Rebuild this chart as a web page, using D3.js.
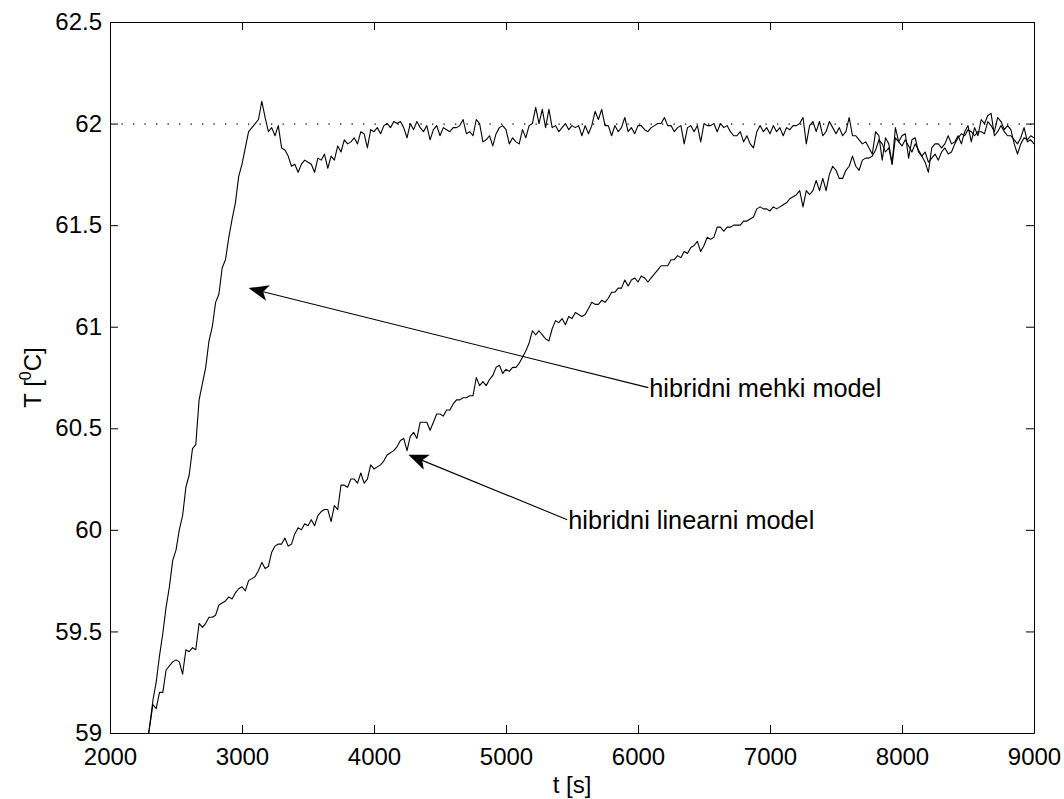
<!DOCTYPE html>
<html>
<head>
<meta charset="utf-8">
<script src="https://cdn.jsdelivr.net/npm/d3@7"></script>
<style>
  body { margin: 0; background: #fff; }
  svg { display: block; font-family: "Liberation Sans", Arial, Helvetica, sans-serif; }
  .axis path, .axis line { stroke: #000; stroke-width: 1; }
  .axis text { font-size: 24px; fill: #000; font-family: "Liberation Sans", Arial, sans-serif; }
  .trace { fill: none; stroke: #000; stroke-width: 1.1; stroke-linejoin: round; }
</style>
</head>
<body>
<div id="plot"></div>
<script>
// sampling of both measured traces
const t0 = 2275;   // first sample [s]
const dt = 25;     // sample period [s]

// hibridni mehki model, T [degC], one row = 250 s
const mehki = [
  58.92, 59.03, 59.16, 59.25, 59.38, 59.49, 59.62, 59.72, 59.85, 59.90,
  60.00, 60.07, 60.21, 60.27, 60.40, 60.42, 60.64, 60.72, 60.80, 60.93,
  61.00, 61.12, 61.16, 61.29, 61.33, 61.44, 61.53, 61.61, 61.74, 61.80,
  61.88, 61.96, 61.98, 62.00, 62.02, 62.11, 62.03, 61.96, 61.98, 61.94,
  61.99, 61.88, 61.87, 61.84, 61.79, 61.80, 61.76, 61.80, 61.82, 61.81,
  61.80, 61.76, 61.83, 61.82, 61.85, 61.78, 61.84, 61.82, 61.89, 61.86,
  61.92, 61.90, 61.91, 61.93, 61.90, 61.96, 61.95, 61.88, 61.97, 61.96,
  61.98, 61.95, 61.99, 62.00, 61.98, 62.01, 62.00, 62.01, 61.98, 61.93,
  62.00, 61.97, 62.01, 61.98, 61.96, 61.99, 61.92, 61.97, 61.99, 61.94,
  61.98, 61.97, 61.96, 61.98, 61.98, 61.99, 62.02, 61.95, 61.96, 61.94,
  62.02, 62.00, 61.91, 61.92, 61.94, 61.89, 61.95, 61.98, 61.99, 61.97,
  61.90, 61.93, 61.91, 61.90, 61.97, 61.93, 61.99, 62.00, 62.08, 62.00,
  62.07, 61.98, 62.07, 61.98, 61.99, 61.96, 61.98, 62.00, 61.97, 61.99,
  61.98, 61.99, 61.94, 61.99, 61.95, 61.99, 62.06, 62.02, 62.07, 61.99,
  61.99, 61.94, 61.99, 61.96, 61.98, 62.03, 61.96, 61.98, 61.95, 61.99,
  61.99, 61.97, 61.96, 61.98, 61.99, 62.00, 62.00, 62.03, 61.99, 61.99,
  61.96, 61.98, 61.99, 61.90, 61.98, 61.99, 61.96, 61.99, 61.91, 62.00,
  61.99, 61.99, 62.00, 61.96, 62.00, 61.98, 61.99, 61.96, 61.94, 61.94,
  61.96, 61.91, 61.94, 61.90, 61.88, 61.96, 61.99, 61.96, 61.98, 61.95,
  61.99, 61.96, 61.98, 61.94, 61.98, 61.97, 61.99, 61.99, 62.00, 62.03,
  61.90, 61.99, 62.01, 61.96, 62.01, 61.94, 61.96, 62.01, 61.98, 61.95,
  61.98, 61.94, 61.96, 62.03, 61.94, 61.94, 61.92, 61.90, 61.91, 61.88,
  61.85, 61.96, 61.94, 61.82, 61.93, 61.90, 61.80, 61.98, 61.91, 61.94,
  61.95, 61.83, 61.92, 61.93, 61.86, 61.84, 61.81, 61.76, 61.88, 61.90,
  61.90, 61.88, 61.90, 61.94, 61.90, 61.91, 61.94, 61.90, 61.96, 61.99,
  61.91, 61.98, 61.94, 62.02, 62.00, 62.04, 62.05, 61.94, 61.96, 61.99,
  61.96, 61.94, 61.94, 61.92, 61.90, 61.93, 61.98, 61.91, 61.92, 61.90
];

// hibridni linearni model, T [degC], one row = 250 s
const linearni = [
  58.92, 59.03, 59.14, 59.12, 59.20, 59.20, 59.31, 59.33, 59.35, 59.36,
  59.35, 59.29, 59.41, 59.40, 59.42, 59.41, 59.54, 59.52, 59.54, 59.57,
  59.57, 59.58, 59.63, 59.64, 59.65, 59.67, 59.66, 59.69, 59.71, 59.72,
  59.70, 59.75, 59.76, 59.77, 59.80, 59.84, 59.81, 59.82, 59.89, 59.92,
  59.93, 59.93, 59.96, 59.92, 59.93, 59.98, 60.01, 60.00, 60.03, 60.02,
  60.05, 60.02, 60.07, 60.09, 60.10, 60.10, 60.04, 60.12, 60.10, 60.22,
  60.22, 60.21, 60.25, 60.25, 60.23, 60.28, 60.23, 60.25, 60.32, 60.30,
  60.31, 60.32, 60.34, 60.37, 60.38, 60.39, 60.41, 60.44, 60.45, 60.39,
  60.46, 60.48, 60.45, 60.53, 60.53, 60.53, 60.49, 60.53, 60.57, 60.57,
  60.56, 60.59, 60.59, 60.62, 60.64, 60.64, 60.65, 60.65, 60.66, 60.66,
  60.75, 60.71, 60.73, 60.71, 60.74, 60.76, 60.80, 60.81, 60.77, 60.79,
  60.78, 60.80, 60.80, 60.82, 60.85, 60.88, 60.92, 60.98, 60.96, 60.98,
  60.96, 60.94, 60.93, 60.99, 61.03, 61.02, 61.04, 61.01, 61.05, 61.04,
  61.07, 61.06, 61.05, 61.06, 61.09, 61.12, 61.11, 61.11, 61.13, 61.12,
  61.14, 61.17, 61.17, 61.19, 61.19, 61.23, 61.20, 61.23, 61.24, 61.22,
  61.25, 61.24, 61.22, 61.24, 61.26, 61.28, 61.30, 61.30, 61.30, 61.33,
  61.33, 61.35, 61.34, 61.37, 61.36, 61.39, 61.40, 61.42, 61.37, 61.40,
  61.44, 61.43, 61.44, 61.49, 61.49, 61.47, 61.49, 61.49, 61.50, 61.50,
  61.50, 61.52, 61.52, 61.53, 61.54, 61.58, 61.59, 61.58, 61.58, 61.57,
  61.59, 61.58, 61.59, 61.60, 61.61, 61.63, 61.64, 61.65, 61.67, 61.59,
  61.67, 61.65, 61.67, 61.72, 61.67, 61.73, 61.67, 61.75, 61.79, 61.77,
  61.73, 61.73, 61.77, 61.79, 61.84, 61.79, 61.77, 61.82, 61.83, 61.83,
  61.84, 61.87, 61.92, 61.90, 61.86, 61.88, 61.80, 61.93, 61.91, 61.89,
  61.92, 61.89, 61.86, 61.90, 61.87, 61.84, 61.86, 61.81, 61.83, 61.85,
  61.82, 61.86, 61.88, 61.85, 61.86, 61.90, 61.93, 61.95, 61.94, 61.97,
  61.96, 61.94, 61.96, 61.96, 61.95, 62.01, 61.99, 61.96, 62.03, 62.01,
  61.97, 61.99, 61.97, 61.90, 61.85, 61.90, 61.93, 61.92, 61.94, 61.93
];

const xTicks = [2000, 3000, 4000, 5000, 6000, 7000, 8000, 9000];
const yTicks = [59, 59.5, 60, 60.5, 61, 61.5, 62, 62.5];
const setpoint = 62;

// annotations: label text, arrow tip (t, T), label anchor (t, T)
const labels = ["hibridni mehki model", "hibridni linearni model"];
const arrowTips = [[3050, 61.19], [4260, 60.37]];
const labelPoints = [[6078, 60.70], [5464, 60.05]];

constructPlot();

function constructPlot(){
  const w = 1064;
  const h = 799;
  const left = 110, right = 1034, top = 22, bottom = 733;

  const xScale = d3.scaleLinear().domain([2000, 9000]).range([left, right]);
  const yScale = d3.scaleLinear().domain([59, 62.5]).range([bottom, top]);

  const svg = d3.select("#plot")
                .append("svg")
                .attr("width", w)
                .attr("height", h);

  svg.append("defs").append("clipPath")
     .attr("id", "clip")
     .append("rect")
     .attr("x", left).attr("y", top)
     .attr("width", right - left).attr("height", bottom - top);

  //-------------setpoint line------------------------
  svg.append("line")
     .attr("x1", xScale(2000)).attr("x2", xScale(9000))
     .attr("y1", yScale(setpoint) + 0.5).attr("y2", yScale(setpoint) + 0.5)
     .attr("stroke", "#000")
     .attr("stroke-width", 1.3)
     .attr("stroke-dasharray", "1.3,10.2");

  //-------------traces------------------------
  const line = d3.line()
                 .x((d, i) => xScale(t0 + i * dt))
                 .y(d => yScale(d));

  const plot = svg.append("g").attr("clip-path", "url(#clip)");
  [mehki, linearni].forEach(series => {
    plot.append("path")
        .datum(series)
        .attr("class", "trace")
        .attr("d", line);
  });

  //-------------axes (inward ticks on all sides)------------------------
  svg.append("g")
     .attr("class", "axis")
     .attr("transform", "translate(0," + bottom + ")")
     .call(d3.axisBottom(xScale).tickValues(xTicks).tickSizeInner(-8).tickSizeOuter(0).tickPadding(15).tickFormat(d3.format("d")));
  svg.append("g")
     .attr("class", "axis")
     .attr("transform", "translate(0," + top + ")")
     .call(d3.axisTop(xScale).tickValues(xTicks).tickSizeInner(-8).tickSizeOuter(0).tickFormat(""));
  svg.append("g")
     .attr("class", "axis")
     .attr("transform", "translate(" + left + ",0)")
     .call(d3.axisLeft(yScale).tickValues(yTicks).tickSizeInner(-8).tickSizeOuter(0).tickPadding(8).tickFormat(d => String(d)));
  svg.append("g")
     .attr("class", "axis")
     .attr("transform", "translate(" + right + ",0)")
     .call(d3.axisRight(yScale).tickValues(yTicks).tickSizeInner(-8).tickSizeOuter(0).tickFormat(""));

  //-------------axis titles------------------------
  svg.append("text")
     .attr("x", (left + right) / 2)
     .attr("y", 793)
     .attr("text-anchor", "middle")
     .attr("font-size", 24)
     .text("t [s]");

  const yTitle = svg.append("text")
     .attr("transform", "translate(41," + (top + bottom) / 2 + ") rotate(-90)")
     .attr("text-anchor", "middle")
     .attr("font-size", 24);
  yTitle.append("tspan").text("T [");
  yTitle.append("tspan").attr("font-size", 16).attr("dy", -10).text("0");
  yTitle.append("tspan").attr("dy", 10).text("C]");

  //-------------annotations------------------------
  labels.forEach((label, i) => {
    const tx = xScale(arrowTips[i][0]), ty = yScale(arrowTips[i][1]);
    const lx = xScale(labelPoints[i][0]), ly = yScale(labelPoints[i][1]);
    const len = Math.hypot(tx - lx, ty - ly);
    const ux = (tx - lx) / len, uy = (ty - ly) / len;   // direction towards tip
    const px = -uy, py = ux;                            // normal
    const headLen = 20, headW = 8, notch = 15;

    svg.append("line")
       .attr("x1", lx).attr("y1", ly)
       .attr("x2", tx - ux * notch).attr("y2", ty - uy * notch)
       .attr("stroke", "#000")
       .attr("stroke-width", 1.1);

    const head = [
      [tx, ty],
      [tx - ux * headLen + px * headW, ty - uy * headLen + py * headW],
      [tx - ux * notch, ty - uy * notch],
      [tx - ux * headLen - px * headW, ty - uy * headLen - py * headW]
    ];
    svg.append("path")
       .attr("d", "M" + head.map(p => p.join(",")).join("L") + "Z")
       .attr("fill", "#000");

    svg.append("text")
       .attr("x", lx + 1)
       .attr("y", ly)
       .attr("dy", "0.37em")
       .attr("font-size", 25.3)
       .text(label);
  });
}
</script>
</body>
</html>
